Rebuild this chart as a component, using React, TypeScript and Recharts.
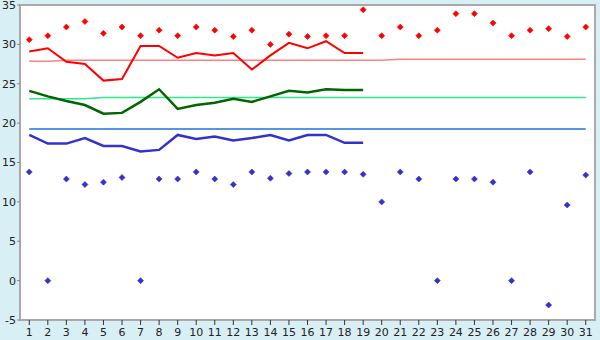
import { CartesianGrid, ComposedChart, Line, XAxis, YAxis } from "recharts";

const days = Array.from({ length: 31 }, (_, i) => String(i + 1));
const yTicks = [-5, 0, 5, 10, 15, 20, 25, 30, 35];

// daily highs / lows (diamonds)
const maxPoints = [
  30.6, 31.1, 32.2, 32.9, 31.4, 32.2, 31.1, 31.8, 31.1, 32.2,
  31.8, 31.0, 31.8, 30.0, 31.3, 31.0, 31.1, 31.1, 34.4, 31.1,
  32.2, 31.1, 31.8, 33.9, 33.9, 32.7, 31.1, 31.8, 32.0, 31.0, 32.2,
];
const minPoints = [
  13.8, 0, 12.9, 12.2, 12.5, 13.1, 0, 12.9, 12.9, 13.8,
  12.9, 12.2, 13.8, 13.0, 13.6, 13.8, 13.8, 13.8, 13.5, 10.0,
  13.8, 12.9, 0, 12.9, 12.9, 12.5, 0, 13.8, -3.1, 9.6, 13.4,
];

// running lines, first 19 days only
const highLine = [
  29.1, 29.5, 27.8, 27.5, 25.4, 25.6, 29.8, 29.8, 28.3, 28.9,
  28.6, 28.9, 26.8, 28.6, 30.2, 29.5, 30.4, 28.9, 28.9,
];
const meanLine = [
  24.1, 23.4, 22.8, 22.3, 21.2, 21.3, 22.7, 24.3, 21.8, 22.3,
  22.6, 23.1, 22.7, 23.4, 24.1, 23.9, 24.3, 24.2, 24.2,
];
const lowLine = [
  18.5, 17.4, 17.4, 18.1, 17.1, 17.1, 16.4, 16.6, 18.5, 18.0,
  18.3, 17.8, 18.1, 18.5, 17.8, 18.5, 18.5, 17.5, 17.5,
];

// normals
const normalHigh = [
  27.85, 27.85, 27.98, 27.98, 27.98, 27.98, 27.98, 27.98, 27.98, 27.98,
  27.98, 27.98, 27.98, 27.98, 27.98, 27.98, 27.98, 27.98, 27.98, 27.98,
  28.1, 28.1, 28.1, 28.1, 28.1, 28.1, 28.1, 28.1, 28.1, 28.1, 28.1,
];
const normalMean = [
  23.1, 23.1, 23.1, 23.1, 23.25, 23.25, 23.25, 23.25, 23.25, 23.25,
  23.25, 23.25, 23.25, 23.25, 23.25, 23.25, 23.25, 23.25, 23.25, 23.25,
  23.25, 23.25, 23.25, 23.25, 23.25, 23.25, 23.25, 23.25, 23.25, 23.25, 23.25,
];
const normalLow = Array.from({ length: 31 }, () => 19.25);

const data = days.map((day, i) => ({
  day,
  max: maxPoints[i],
  min: minPoints[i],
  high: highLine[i],
  mean: meanLine[i],
  low: lowLine[i],
  nHigh: normalHigh[i],
  nMean: normalMean[i],
  nLow: normalLow[i],
}));

const font = { fontFamily: "DejaVu Sans", fontSize: 11, fill: "#222" };
const halfBand = 575 / 31 / 2;

function diamond(color: string) {
  return (props: { cx?: number; cy?: number; index?: number }) => {
    const { cx, cy, index } = props;
    if (cx == null || cy == null) return <g key={index} />;
    const r = 3;
    return (
      <polygon
        key={index}
        points={`${cx},${cy - r} ${cx + r},${cy} ${cx},${cy + r} ${cx - r},${cy}`}
        fill={color}
        stroke={color}
        strokeWidth={0.6}
      />
    );
  };
}

export default function App() {
  return (
    <div style={{ position: "fixed", left: 0, top: 0, width: 600, height: 340, background: "#d9eff6" }}>
      <ComposedChart width={600} height={340} data={data} margin={{ top: 5, right: 5, left: 0, bottom: 0 }}>
        <rect x={20} y={5} width={575} height={315} fill="#fff" />
        <CartesianGrid vertical={false} stroke="#aaa" strokeDasharray="" />
        <rect x={20} y={5} width={575} height={315} fill="none" stroke="#aaa" strokeWidth={2} />
        <XAxis
          dataKey="day"
          interval={0}
          padding={{ left: halfBand, right: halfBand }}
          tick={font}
          tickSize={5}
          tickMargin={3}
          tickLine={{ stroke: "#333" }}
          axisLine={{ stroke: "#aaa", strokeWidth: 2 }}
          height={20}
        />
        <YAxis
          domain={[-5, 35]}
          ticks={yTicks}
          interval={0}
          tick={font}
          tickSize={3}
          tickMargin={1}
          tickLine={{ stroke: "#888" }}
          axisLine={{ stroke: "#aaa", strokeWidth: 2 }}
          width={20}
        />
        <Line dataKey="nHigh" stroke="#ff8080" strokeWidth={1.5} dot={false} isAnimationActive={false} />
        <Line dataKey="nMean" stroke="#2ee88a" strokeWidth={1.5} dot={false} isAnimationActive={false} />
        <Line dataKey="nLow" stroke="#1a73e0" strokeWidth={1.5} dot={false} isAnimationActive={false} />
        <Line dataKey="high" stroke="#ff0000" strokeWidth={2} dot={false} isAnimationActive={false} />
        <Line dataKey="mean" stroke="#006600" strokeWidth={2.5} dot={false} isAnimationActive={false} />
        <Line dataKey="low" stroke="#3333cc" strokeWidth={2.5} dot={false} isAnimationActive={false} />
        <Line dataKey="max" stroke="none" dot={diamond("#ff0000")} activeDot={false} isAnimationActive={false} />
        <Line dataKey="min" stroke="none" dot={diamond("#3333cc")} activeDot={false} isAnimationActive={false} />
      </ComposedChart>
    </div>
  );
}
